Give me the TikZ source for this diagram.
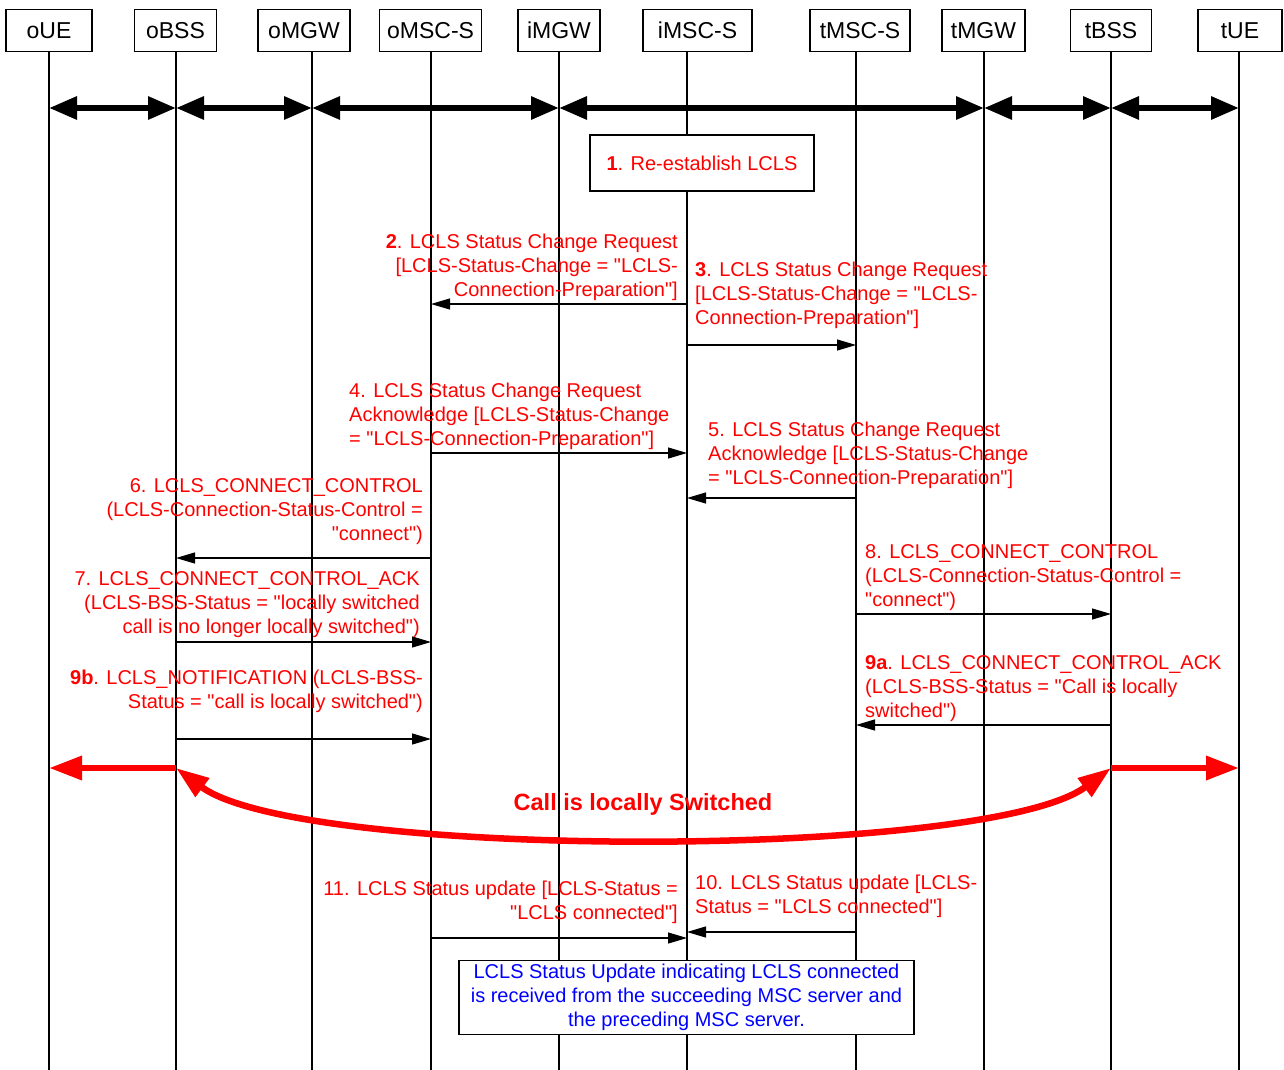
\documentclass[tikz,border=0pt]{standalone}
\usepackage{fontspec}
\setmainfont{Liberation Sans}[Ligatures=TeXOff]
\usetikzlibrary{arrows.meta,calc}
\newcommand\mylblfont{\fontsize{20}{24}\selectfont}
\newcommand\myhdrfont{\fontsize{23}{27}\selectfont}
\begin{document}
\begin{tikzpicture}[x=1pt,y=-1pt,
  hdr/.style={draw=black, line width=1.2pt, fill=white, minimum height=42pt, inner sep=0pt, font=\myhdrfont},
  life/.style={line width=1.2pt, black},
  msg/.style={line width=1.2pt, black, -{Triangle[length=19pt,width=11pt]}},
  bus/.style={line width=6pt, black, {Triangle[length=28pt,width=22pt]}-{Triangle[length=28pt,width=22pt]}},
  redarr/.style={line width=6.5pt, red, -{Triangle[length=33pt,width=23pt]}},
  redcurve/.style={line width=6.5pt, red, {Triangle[length=33pt,width=22pt]}-{Triangle[length=33pt,width=22pt]}},
  lblr/.style={text=red, font=\mylblfont, inner sep=0pt, align=right, anchor=north east},
  lbll/.style={text=red, font=\mylblfont, inner sep=0pt, align=left, anchor=north west},
  notebox/.style={draw=black, line width=1.2pt, fill=white, inner sep=0pt, font=\mylblfont, align=center}
]
\useasboundingbox (0,0) rectangle (1284,1070);

% lifeline bottoms
\coordinate (oUEb) at (49,1070);
\coordinate (oBSSb) at (176,1070);
\coordinate (oMGWb) at (312,1070);
\coordinate (oMSCb) at (431,1070);
\coordinate (iMGWb) at (559,1070);
\coordinate (iMSCb) at (687,1070);
\coordinate (tMSCb) at (856,1070);
\coordinate (tMGWb) at (984,1070);
\coordinate (tBSSb) at (1111,1070);
\coordinate (tUEb) at (1239,1070);

% headers
\node[hdr, minimum width=86pt] (oUE) at (49,30.5) {oUE};
\node[hdr, minimum width=82pt] (oBSS) at (175.5,30.5) {oBSS};
\node[hdr, minimum width=92pt] (oMGW) at (304,30.5) {oMGW};
\node[hdr, minimum width=102pt] (oMSC) at (430.6,30.5) {oMSC-S};
\node[hdr, minimum width=82pt] (iMGW) at (559,30.5) {iMGW};
\node[hdr, minimum width=109pt] (iMSC) at (697.5,30.5) {iMSC-S};
\node[hdr, minimum width=100pt] (tMSC) at (860,30.5) {tMSC-S};
\node[hdr, minimum width=83pt] (tMGW) at (983.5,30.5) {tMGW};
\node[hdr, minimum width=81pt] (tBSS) at (1111,30.5) {tBSS};
\node[hdr, minimum width=84pt] (tUE) at (1240,30.5) {tUE};

% lifelines
\foreach \n in {oUE,oBSS,oMGW,oMSC,iMGW,iMSC,tMSC,tMGW,tBSS,tUE}
  \draw[life] (\n.south -| \n b) -- (\n b);

% bearer
\coordinate (bus) at (0,108);
\draw[bus] (oUEb |- bus) -- (oBSSb |- bus);
\draw[bus] (oBSSb |- bus) -- (oMGWb |- bus);
\draw[bus] (oMGWb |- bus) -- (iMGWb |- bus);
\draw[bus] (iMGWb |- bus) -- (tMGWb |- bus);
\draw[bus] (tMGWb |- bus) -- (tBSSb |- bus);
\draw[bus] (tBSSb |- bus) -- (tUEb |- bus);

% step 1
\node[notebox, minimum width=224pt, minimum height=56pt, text=red] (s1) at (702,163) {\textbf{1}. Re-establish LCLS};

% 2
\draw[msg] (iMSCb |- 0,304) -- (oMSCb |- 0,304);
\node[lblr] (l2) at (678,231.4) {\strut\textbf{2}. LCLS Status Change Request\\{[LCLS-Status-Change = "LCLS-}\\Connection-Preparation"]};
% 3
\draw[msg] (iMSCb |- 0,345) -- (tMSCb |- 0,345);
\node[lbll] (l3) at (695,259.4) {\strut\textbf{3}. LCLS Status Change Request\\{[LCLS-Status-Change = "LCLS-}\\Connection-Preparation"]};
% 4
\draw[msg] (oMSCb |- 0,453) -- (iMSCb |- 0,453);
\node[lbll] (l4) at (349,380.4) {\strut 4. LCLS Status Change Request\\Acknowledge [LCLS-Status-Change\\= "LCLS-Connection-Preparation"]};
% 5
\draw[msg] (tMSCb |- 0,498) -- (iMSCb |- 0,498);
\node[lbll] (l5) at (708,419.4) {\strut 5. LCLS Status Change Request\\Acknowledge [LCLS-Status-Change\\= "LCLS-Connection-Preparation"]};
% 6
\draw[msg] (oMSCb |- 0,558) -- (oBSSb |- 0,558);
\node[lblr] (l6) at (423,475.4) {\strut 6. LCLS\_CONNECT\_CONTROL\\(LCLS-Connection-Status-Control =\\"connect")};
% 7
\draw[msg] (oBSSb |- 0,642) -- (oMSCb |- 0,642);
\node[lblr] (l7) at (420,568.4) {\strut 7. LCLS\_CONNECT\_CONTROL\_ACK\\(LCLS-BSS-Status = "locally switched\\call is no longer locally switched")};
% 8
\draw[msg] (tMSCb |- 0,614) -- (tBSSb |- 0,614);
\node[lbll] (l8) at (865,541.4) {\strut 8. LCLS\_CONNECT\_CONTROL\\(LCLS-Connection-Status-Control =\\"connect")};
% 9a
\draw[msg] (tBSSb |- 0,725) -- (tMSCb |- 0,725);
\node[lbll] (l9a) at (865,652.4) {\strut\textbf{9a}. LCLS\_CONNECT\_CONTROL\_ACK\\(LCLS-BSS-Status = "Call is locally\\switched")};
% 9b
\draw[msg] (oBSSb |- 0,739) -- (oMSCb |- 0,739);
\node[lblr] (l9b) at (423,667.4) {\strut\textbf{9b}. LCLS\_NOTIFICATION (LCLS-BSS-\\Status = "call is locally switched")};

% locally switched
\coordinate (lsL) at (oBSSb |- 0,768);
\coordinate (lsR) at (tBSSb |- 0,768);
\draw[redarr] (lsL) -- (oUEb |- lsL);
\draw[redarr] (lsR) -- (tUEb |- lsR);
\draw[redcurve] (lsL) .. controls (300,860) and (987,860) .. (lsR);
\node[text=red, font=\fontsize{23.5}{28}\selectfont\bfseries, anchor=base, inner sep=0pt] (ls) at (643,810.4) {Call is locally Switched};

% 10
\draw[msg] (tMSCb |- 0,932) -- (iMSCb |- 0,932);
\node[lbll] (l10) at (695,872.4) {\strut 10. LCLS Status update [LCLS-\\Status = "LCLS connected"]};
% 11
\draw[msg] (oMSCb |- 0,938) -- (iMSCb |- 0,938);
\node[lblr] (l11) at (678,878.4) {\strut 11. LCLS Status update [LCLS-Status =\\"LCLS connected"]};

% note
\node[notebox, minimum width=455pt, minimum height=74pt, text=blue] (note) at (686.5,997.5) {\strut LCLS Status Update indicating LCLS connected\\is received from the succeeding MSC server and\\the preceding MSC server.\strut};
\end{tikzpicture}
\end{document}
